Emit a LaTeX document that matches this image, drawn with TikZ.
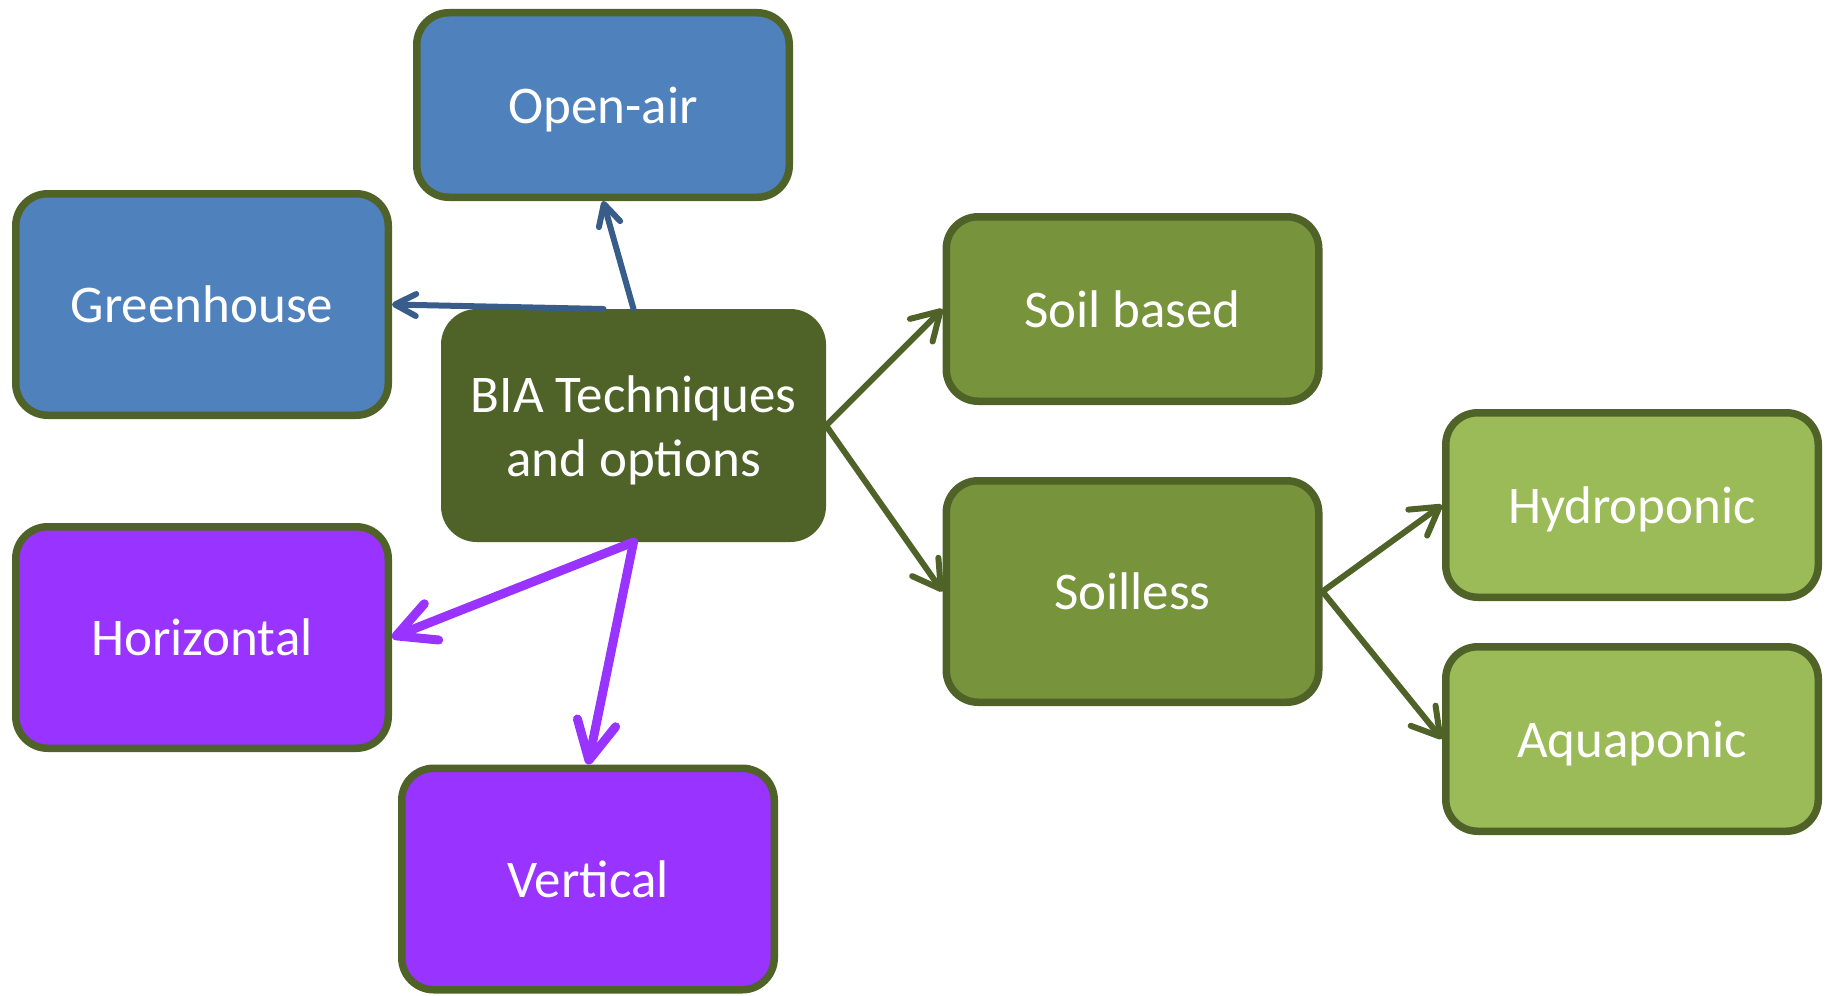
\documentclass[tikz,border=0pt]{standalone}
\usepackage{fontspec}
\setmainfont{Carlito}
\usetikzlibrary{arrows.meta}
\definecolor{cOlive}{HTML}{4F6228}
\definecolor{cBlue}{HTML}{4F81BD}
\definecolor{cBlueLine}{HTML}{385D8A}
\definecolor{cMidGreen}{HTML}{77933C}
\definecolor{cLightGreen}{HTML}{9BBB59}
\definecolor{cPurple}{HTML}{9933FF}
\begin{document}
\begin{tikzpicture}[x=0.5pt,y=-0.5pt,
  box/.style={draw=cOlive, line width=3.75pt, rounded corners=16pt, text=white,
    font=\fontsize{26.5}{32}\selectfont, align=center, inner sep=0pt,
    text height=21pt, text depth=2.6pt,
    minimum width=186.25pt},
  shortbox/.style={box, minimum height=92.25pt},
  tallbox/.style={box, minimum height=110.75pt},
  bluearrow/.style={draw=cBlueLine, line width=3pt, line cap=round,
    -{Straight Barb[length=10.5pt,width=11pt,round]}},
  greenarrow/.style={draw=cOlive, line width=3pt, line cap=round,
    -{Straight Barb[length=13.5pt,width=16pt,round]}},
  purplearrow/.style={draw=cPurple, line width=4.5pt, line cap=round,
    -{Straight Barb[length=19pt,width=19.5pt,round]}}]
\useasboundingbox (0,0) rectangle (1829,995);
\node[shortbox, fill=cBlue] (openair) at (603,105) {Open-air};
\node[tallbox, fill=cBlue] (greenhouse) at (202,304.5) {Greenhouse};
\node[box, fill=cOlive, minimum width=188.75pt, minimum height=112.75pt,
  text height=53.6pt, text depth=2.6pt] (bia) at (633.5,425.5) {BIA Techniques\\and options};
\node[shortbox, fill=cMidGreen] (soilbased) at (1132.5,309) {Soil based};
\node[tallbox, fill=cMidGreen] (soilless) at (1132.5,591.5) {Soilless};
\node[shortbox, fill=cLightGreen] (hydro) at (1632,505) {Hydroponic};
\node[shortbox, fill=cLightGreen] (aqua) at (1632,739) {Aquaponic};
\node[tallbox, fill=cPurple] (horizontal) at (202,637.5) {Horizontal};
\node[tallbox, fill=cPurple] (vertical) at (588,879) {Vertical};

\draw[bluearrow] (bia.north) -- (openair.south);
\draw[bluearrow] ([xshift=-15pt]bia.north) -- (greenhouse.east);
\draw[greenarrow] (bia.east) -- (soilbased.west);
\draw[greenarrow] (bia.east) -- (soilless.west);
\draw[greenarrow] (soilless.east) -- (hydro.west);
\draw[greenarrow] (soilless.east) -- (aqua.west);
\draw[purplearrow] (bia.south) -- (horizontal.east);
\draw[purplearrow] (bia.south) -- (vertical.north);
\end{tikzpicture}
\end{document}
